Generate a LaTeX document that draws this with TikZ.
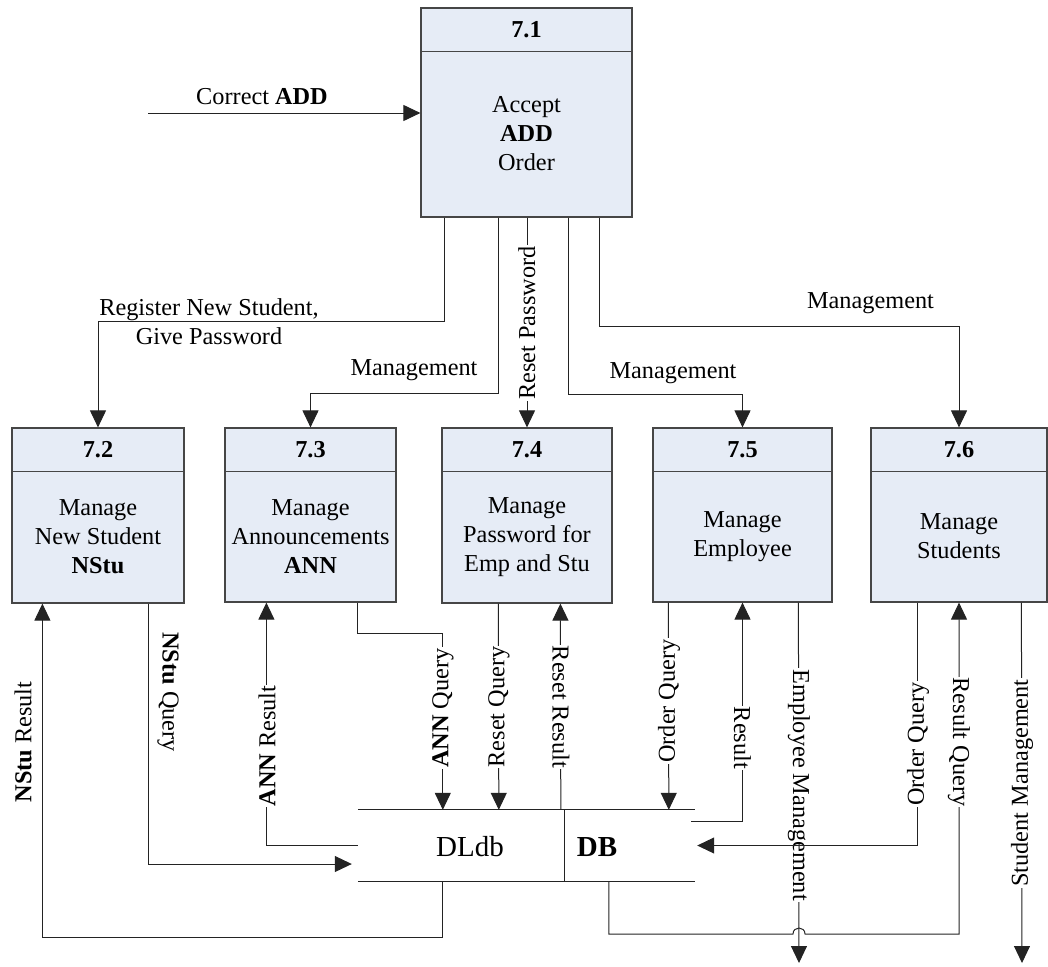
\documentclass[tikz,border=0pt]{standalone}
\usepackage{fontspec}
\setmainfont{Liberation Serif}
\usetikzlibrary{calc,arrows.meta}

\definecolor{procfill}{RGB}{230,236,246}
\definecolor{edgecol}{RGB}{70,70,70}
\definecolor{wirecol}{RGB}{35,35,35}

\tikzset{
  procbox/.style={draw=edgecol, line width=1.2pt, fill=procfill, inner sep=0pt},
  divline/.style={draw=edgecol, line width=1.2pt},
  wire/.style={draw=wirecol, line width=1pt},
  flow/.style={wire, -{Triangle[length=17pt,width=16pt]}},
  vlab/.style={fill=white, inner sep=1pt, rotate=90},
  vlabr/.style={fill=white, inner sep=1pt, rotate=-90},
  storetext/.style={font=\fontsize{29}{34}\selectfont, inner sep=0pt}
}

% process box: name, centre x, top y, width, height, number, body text
\newcommand{\dfdproc}[7]{%
  \node[procbox, minimum width=#4pt, minimum height=#5pt] (#1) at (#2,{#3+#5/2}) {};
  \draw[divline] ($(#1.north west)+(0,44)$) -- ($(#1.north east)+(0,44)$);
  \node (#1-num) at ($(#1.north)+(0,22)$) {\textbf{#6}};
  \node[align=center] (#1-txt) at ($(#1.north)+(0,{44+(#5-44)/2})$) {#7};
}

\begin{document}
\begin{tikzpicture}[x=1pt, y=-1pt, font=\fontsize{24.3}{29}\selectfont]
\useasboundingbox (0,0) rectangle (1048,966);

% processes
\dfdproc{p71}{526.5}{8}{211}{209}{7.1}{Accept\\\textbf{ADD}\\Order}
\dfdproc{p72}{98}{428}{172}{175}{7.2}{Manage\\New Student\\\textbf{NStu}}
\dfdproc{p73}{310.5}{428}{171}{174}{7.3}{Manage\\Announcements\\\textbf{ANN}}
\dfdproc{p74}{527}{428}{170}{175}{7.4}{Manage\\Password for\\Emp and Stu}
\dfdproc{p75}{742.5}{428}{179}{174}{7.5}{Manage\\Employee}
\dfdproc{p76}{959}{428}{176}{174}{7.6}{Manage\\Students}

% data store
\node[minimum width=337pt, minimum height=71pt, inner sep=0pt] (store) at (526.5,845.5) {};
\draw[wire] (store.north west) -- (store.north east);
\draw[wire] (store.south west) -- (store.south east);
\draw[wire] ($(store.north west)+(207,0)$) -- ($(store.south west)+(207,0)$);
\node[storetext] (dldb) at (470,847) {DLdb};
\node[storetext] (db) at (597,847) {\textbf{DB}};

% input to 7.1
\coordinate (cin) at (148,113);
\draw[flow] (cin) -- (cin -| p71.west);
\node (lcorrect) at (262,97) {Correct \textbf{ADD}};

% 7.1 to the sub-processes
\draw[flow] ($(p71.south west)+(24,0)$) -- ++(0,104) -| (p72.north);
\node[align=center] (lreg) at (209,322) {Register New Student,\\Give Password};
\draw[flow] ($(p71.south west)+(78,0)$) -- ++(0,176) -| (p73.north);
\node (lman3) at (414,370) {Management};
\draw[flow] (p71.south -| p74.north) -- (p74.north);
\node[vlab] (lreset) at (526.8,323) {Reset Password};
\draw[flow] ($(p71.south west)+(148,0)$) -- ++(0,177) -| (p75.north);
\node (lman5) at (673,373) {Management};
\draw[flow] ($(p71.south west)+(179,0)$) -- ++(0,109) -| (p76.north);
\node (lman6) at (870.5,303) {Management};

% 7.2 <-> store
\draw[flow] ($(store.south west)+(85,0)$) -- ++(0,56) -| ($(p72.south west)+(31,0)$);
\node[rotate=90] (lnres) at (23,742) {\textbf{NStu} Result};
\draw[flow] ($(p72.south west)+(137,0)$) |- ($(store.west)+(-6,18.5)$);
\node[rotate=-90] (lnq) at (168,692) {\textbf{NStu} Query};

% 7.3 <-> store
\draw[flow] (store.west) -| ($(p73.south west)+(42,0)$);
\node[vlab] (lannres) at (267,746) {\textbf{ANN} Result};
\draw[flow] ($(p73.south west)+(133,0)$) -- ++(0,31) -| ($(store.north west)+(85,0)$);
\node[vlab] (lannq) at (443,708) {\textbf{ANN} Query};

% 7.4 <-> store
\draw[flow] ($(p74.south west)+(57,0)$) -- ($(store.north west)+(141,0)$);
\node[vlab] (lrq) at (499,707) {Reset Query};
\draw[flow] ($(store.north west)+(203,0)$) -- ($(p74.south west)+(119,0)$);
\node[vlabr] (lrr) at (561,707) {Reset Result};

% 7.5 <-> store
\draw[flow] ($(p75.south west)+(16,0)$) -- ($(store.north west)+(311,0)$);
\node[vlab] (loq5) at (669,701) {Order Query};
\draw[flow] ($(store.north east)+(-4,12)$) -| (p75.south);
\node[vlabr] (lres5) at (742.5,738) {Result};
\coordinate (empout) at (799,963);
\draw[flow] ($(p75.south west)+(146,0)$) -- (empout);
\node[vlabr] (lemp) at (799,785) {Employee Management};

% 7.6 <-> store
\draw[flow] ($(store.south west)+(251,0)$) -- ++(0,53) -- (793,934)
  .. controls (793,926) and (805,926) .. (805,934) -| (p76.south);
\node[vlabr] (lrq6) at (959,742) {Result Query};
\coordinate (stuout) at (1022,963);
\draw[flow] ($(p76.south west)+(151,0)$) -- (stuout);
\node[vlab] (lstu) at (1022,783) {Student Management};
\draw[flow] ($(p76.south west)+(47,0)$) |- ($(store.east)+(2,0)$);
\node[vlab] (loq6) at (918,744) {Order Query};

\end{tikzpicture}
\end{document}
